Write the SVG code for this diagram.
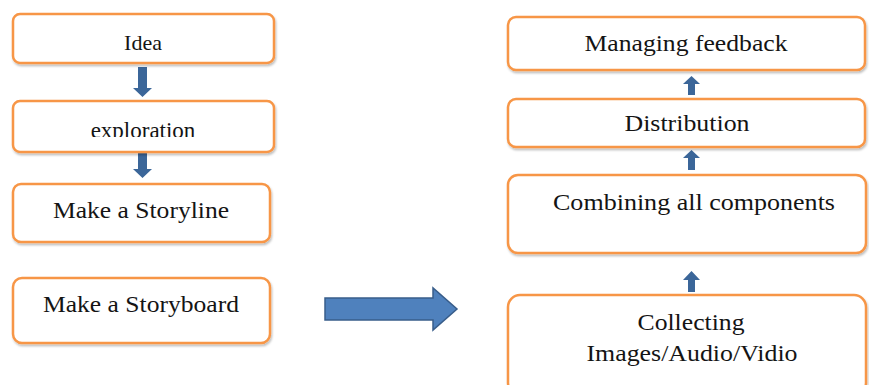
<svg xmlns="http://www.w3.org/2000/svg" width="869" height="385" viewBox="0 0 869 385">
<defs>
<filter id="sh" x="-5%" y="-10%" width="110%" height="130%">
<feDropShadow dx="1" dy="2" stdDeviation="1.2" flood-color="#000" flood-opacity="0.25"/>
</filter>
<clipPath id="clipExp"><rect x="13" y="101" width="261" height="36"/></clipPath>
</defs>
<style>
.box{fill:#fff;stroke:#f79646;stroke-width:2.5;filter:url(#sh)}
.t{font-family:'Liberation Serif','Times New Roman','DejaVu Serif',serif;fill:#141414;text-anchor:middle}
.arr{fill:#3b6699}
.big{fill:#4f81bd;stroke:#385d8a;stroke-width:1.5}
</style>
<rect width="869" height="385" fill="#fff"/>
<g id="connectors">
<polygon class="arr" points="138,67 147,67 147,88 152,88 142.5,97 133,88 138,88"/>
<polygon class="arr" points="138,152 147,152 147,169 152,169 142.5,178 133,169 138,169"/>
<polygon class="arr" points="688,95 695,95 695,84 700,84 691.5,76 683,84 688,84"/>
<polygon class="arr" points="688,170 695,170 695,158 700,158 691.5,150 683,158 688,158"/>
<polygon class="arr" points="688,292 695,292 695,280 700,280 691.5,271 683,280 688,280"/>
<polygon class="big" points="325,298 433,298 433,288 457,309 433,330 433,320 325,320"/>
</g>
<g id="idea">
<rect class="box" x="13" y="14" width="261" height="49" rx="7"/>
<text class="t" x="143" y="50" font-size="22" font-family="Liberation Serif, DejaVu Serif, serif">Idea</text>
</g>
<g id="exploration">
<rect class="box" x="13" y="101" width="261" height="51" rx="7"/>
<text class="t" x="143" y="138" font-size="23" font-family="Liberation Serif, DejaVu Serif, serif" clip-path="url(#clipExp)">exploration</text>
</g>
<g id="storyline">
<rect class="box" x="13" y="184" width="257" height="58" rx="8"/>
<text class="t" x="141" y="218" font-size="23" font-family="Liberation Serif, DejaVu Serif, serif" textLength="176" lengthAdjust="spacingAndGlyphs">Make a Storyline</text>
</g>
<g id="storyboard">
<rect class="box" x="13" y="278" width="257" height="65" rx="9"/>
<text class="t" x="141" y="312" font-size="23" font-family="Liberation Serif, DejaVu Serif, serif" textLength="196" lengthAdjust="spacingAndGlyphs">Make a Storyboard</text>
</g>
<g id="managing">
<rect class="box" x="508" y="17" width="357" height="53" rx="8"/>
<text class="t" x="686" y="51" font-size="23" font-family="Liberation Serif, DejaVu Serif, serif" textLength="203" lengthAdjust="spacingAndGlyphs">Managing feedback</text>
</g>
<g id="distribution">
<rect class="box" x="508" y="99" width="357" height="48" rx="8"/>
<text class="t" x="687" y="131" font-size="23" font-family="Liberation Serif, DejaVu Serif, serif" textLength="125" lengthAdjust="spacingAndGlyphs">Distribution</text>
</g>
<g id="combining">
<rect class="box" x="508" y="175" width="358" height="78" rx="10"/>
<text class="t" x="694" y="210" font-size="23" font-family="Liberation Serif, DejaVu Serif, serif" textLength="282" lengthAdjust="spacingAndGlyphs">Combining all components</text>
</g>
<g id="collecting">
<rect class="box" x="508" y="295" width="358" height="100" rx="12"/>
<text class="t" x="691" y="330" font-size="23" font-family="Liberation Serif, DejaVu Serif, serif" textLength="107" lengthAdjust="spacingAndGlyphs">Collecting</text>
<text class="t" x="692" y="361" font-size="23" font-family="Liberation Serif, DejaVu Serif, serif" textLength="211" lengthAdjust="spacingAndGlyphs">Images/Audio/Vidio</text>
</g>
</svg>
